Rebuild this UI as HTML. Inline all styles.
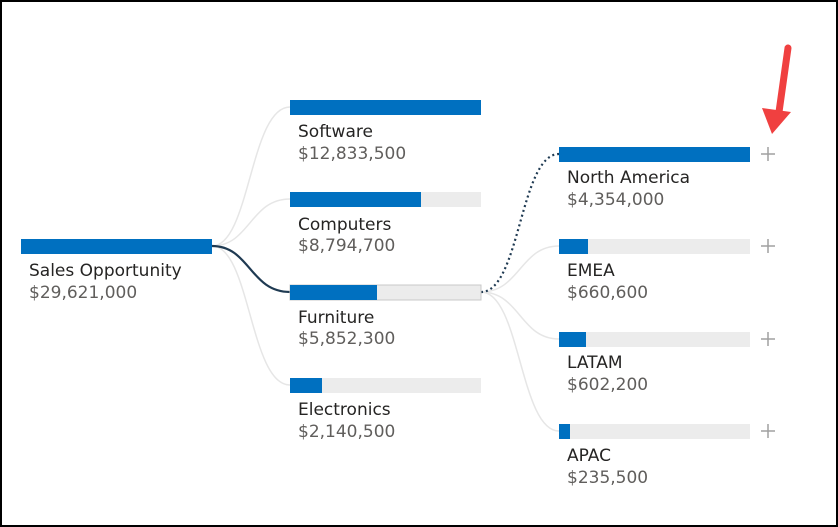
<!DOCTYPE html>
<html><head><style>
body{margin:0;background:#fff}
svg{display:block}
text{font-family:"Segoe UI","DejaVu Sans","Liberation Sans",sans-serif;font-size:17px}
.n{fill:#252423}.v{fill:#605e5c}
</style></head><body>
<svg width="838" height="527" xmlns="http://www.w3.org/2000/svg">
<rect x="1" y="1" width="836" height="525" fill="#fff" stroke="#000" stroke-width="2"/>
<g fill="none" stroke="#e6e6e6" stroke-width="1.5">
<path d="M212 246 C250 246,250 107,290 107"/>
<path d="M212 246 C250 246,250 199,290 199"/>
<path d="M212 246 C250 246,250 385,290 385"/>
<path d="M481 292 C520 292,520 246,559 246"/>
<path d="M481 292 C520 292,520 339,559 339"/>
<path d="M481 292 C520 292,520 431,559 431"/>
</g>
<path d="M212 246 C250 246,250 292,290 292" fill="none" stroke="#1f3a52" stroke-width="2.2"/>
<path d="M481 292 C520 292,520 154,559 154" fill="none" stroke="#1f3a52" stroke-width="2.2" stroke-dasharray="2,3"/>
<rect x="21" y="239" width="191" height="15" fill="#0070c0"/>
<g fill="#ececec">
<rect x="290" y="192" width="191" height="15"/>
<rect x="290" y="285" width="191" height="15" stroke="#c8c8c8"/>
<rect x="290" y="378" width="191" height="15"/>
<rect x="559" y="239" width="191" height="15"/>
<rect x="559" y="332" width="191" height="15"/>
<rect x="559" y="424" width="191" height="15"/>
</g>
<g fill="#0070c0">
<rect x="290" y="100" width="191" height="15"/>
<rect x="290" y="192" width="131" height="15"/>
<rect x="290" y="285" width="87" height="15"/>
<rect x="290" y="378" width="32" height="15"/>
<rect x="559" y="147" width="191" height="15"/>
<rect x="559" y="239" width="29" height="15"/>
<rect x="559" y="332" width="27" height="15"/>
<rect x="559" y="424" width="11" height="15"/>
</g>
<g stroke="#a0a0a0" stroke-width="1.5">
<path d="M761 154h14M768 147v14"/><path d="M761 246h14M768 239v14"/>
<path d="M761 339h14M768 332v14"/><path d="M761 431h14M768 424v14"/>
</g>
<text x="29" y="276" class="n">Sales Opportunity</text><text x="29" y="298" class="v">$29,621,000</text>
<text x="298" y="137" class="n">Software</text><text x="298" y="159" class="v">$12,833,500</text>
<text x="298" y="230" class="n">Computers</text><text x="298" y="251" class="v">$8,794,700</text>
<text x="298" y="323" class="n">Furniture</text><text x="298" y="344" class="v">$5,852,300</text>
<text x="298" y="415" class="n">Electronics</text><text x="298" y="437" class="v">$2,140,500</text>
<text x="567" y="183" class="n">North America</text><text x="567" y="205" class="v">$4,354,000</text>
<text x="567" y="276" class="n">EMEA</text><text x="567" y="298" class="v">$660,600</text>
<text x="567" y="368" class="n">LATAM</text><text x="567" y="390" class="v">$602,200</text>
<text x="567" y="461" class="n">APAC</text><text x="567" y="483" class="v">$235,500</text>
<path d="M788 48 L779 112" stroke="#f04040" stroke-width="7" stroke-linecap="round"/>
<path d="M762 108 L791 112 L772 134 Z" fill="#f04040"/>
</svg>
</body></html>
